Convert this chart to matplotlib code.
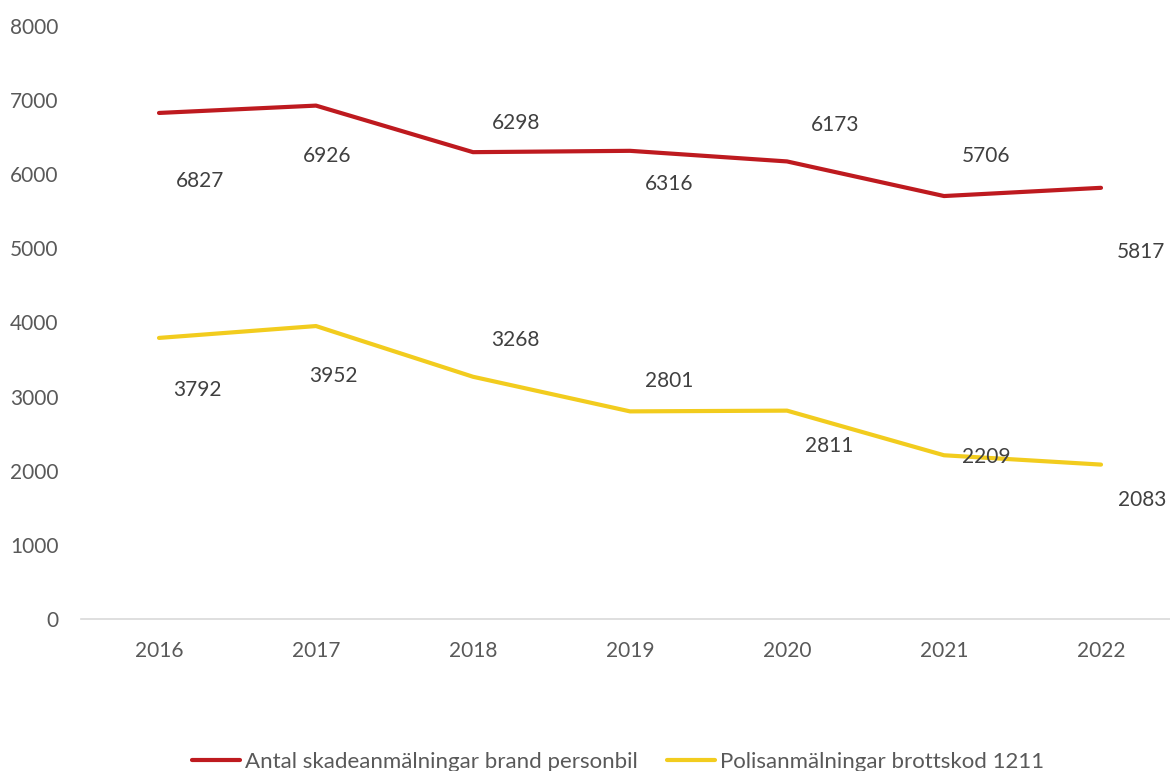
import numpy as np
import matplotlib.pyplot as plt

years = ["2016", "2017", "2018", "2019", "2020", "2021", "2022"]
skador = [6827, 6926, 6298, 6316, 6173, 5706, 5817]
polis = [3792, 3952, 3268, 2801, 2811, 2209, 2083]
serie_namn = ["Antal skadeanmälningar brand personbil", "Polisanmälningar brottskod 1211"]

# label offsets in pixels (dx, dy), as placed in the original
skador_off = [(41, -68), (11, -50), (43, 29), (39, -33), (48, 36), (42, 40), (40, -64)]
polis_off = [(38, -52), (17, -50), (42, 37), (39, 30), (42, -35), (42, -2), (41, -35)]

plt.rcParams['font.family'] = ['Lato', 'DejaVu Sans']

fig = plt.figure(figsize=(11.7, 7.71), dpi=100)
ax = fig.add_axes([80.5 / 1170, 152 / 771, 1099 / 1170, 593 / 771])

x = np.arange(len(years))
red = '#BE1A1F'
yellow = '#F2CC1E'
ax.plot(x, skador, color=red, lw=3, solid_capstyle='round', label=serie_namn[0])
ax.plot(x, polis, color=yellow, lw=3, solid_capstyle='round', label=serie_namn[1])

px = 72 / 100
for vals, offs in [(skador, skador_off), (polis, polis_off)]:
    for i, v in enumerate(vals):
        ax.annotate(str(v), (x[i], v), xytext=(offs[i][0] * px, offs[i][1] * px),
                    textcoords='offset points', ha='center', va='center',
                    fontsize=15, color='#404040')

ax.set_xlim(-0.5, len(years) - 0.5)
ax.set_ylim(0, 8000)
ax.set_yticks(np.arange(0, 8001, 1000))
ax.set_xticks(x)
ax.set_xticklabels(years)
ax.tick_params(length=0, labelsize=15, labelcolor='#595959')
ax.tick_params(axis='y', pad=16)
ax.tick_params(axis='x', pad=16)
for s in ['top', 'right', 'left']:
    ax.spines[s].set_visible(False)
ax.spines['bottom'].set_color('#D9D9D9')
ax.spines['bottom'].set_linewidth(1.2)

leg = fig.legend(loc='center', bbox_to_anchor=(0.528, 0.012), ncol=2, frameon=False,
                 fontsize=16, handlelength=2.2, handletextpad=0.2, columnspacing=1.3)
for t in leg.get_texts():
    t.set_color('#595959')

fig.savefig('out.png', dpi=100)
